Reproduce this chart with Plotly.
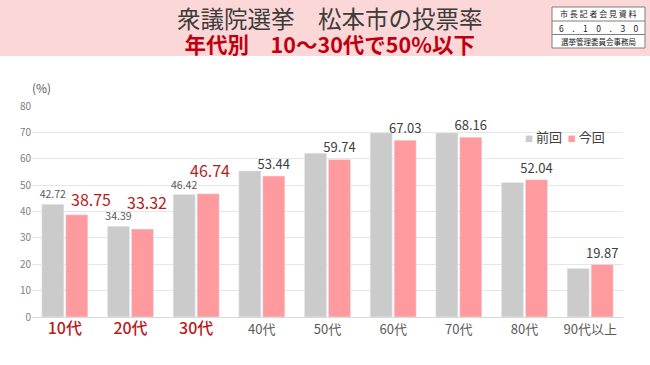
import plotly.graph_objects as go

categories = ["10代", "20代", "30代", "40代", "50代", "60代", "70代", "80代", "90代以上"]
prev_vals = [42.72, 34.39, 46.42, 55.4, 62.1, 69.8, 69.8, 51.0, 18.4]
curr_vals = [38.75, 33.32, 46.74, 53.44, 59.74, 67.03, 68.16, 52.04, 19.87]
highlight = [True, True, True, False, False, False, False, False, False]
y_ticks = [0, 10, 20, 30, 40, 50, 60, 70, 80]
series_names = ["前回", "今回"]

FONT = "Noto Sans CJK JP"
GRAY_BAR = "#cbcbcb"
PINK_BAR = "#ff9a9e"
DARK_RED = "#b81c22"
TXT_GRAY = "#595959"

# label placement offsets (pixels) for the emphasised current-value labels
hl_xshift = [26, 16, 14]
hl_yshift = [2, 13, 10]

prev_text = [f"{v:.2f}" if h else "" for v, h in zip(prev_vals, highlight)]
curr_text = [("" if h else f"{v:.2f}") for v, h in zip(curr_vals, highlight)]

tick_text = [
    f'<span style="color:{DARK_RED};font-size:16px;font-weight:500">{c}</span>' if h else c
    for c, h in zip(categories, highlight)
]

fig = go.Figure()
fig.add_trace(go.Bar(
    x=categories, y=prev_vals, name=series_names[0], marker_color=GRAY_BAR,
    text=prev_text, textposition="outside", constraintext="none",
    textfont=dict(size=10.5, color=TXT_GRAY, family=FONT),
    cliponaxis=False, showlegend=False,
))
fig.add_trace(go.Bar(
    x=categories, y=curr_vals, name=series_names[1], marker_color=PINK_BAR,
    text=curr_text, textposition="outside", constraintext="none",
    textfont=dict(size=13, color="#404040", family=FONT),
    cliponaxis=False, showlegend=False,
))

# plot area in pixels: x 32..623, y 106..317
PL, PR, PT, PB = 32, 623, 106, 317

def px_y(p):
    return (PB - p) / (PB - PT)

def px_x(p):
    return (p - PL) / (PR - PL)

box_l, box_r, box_t, box_b = 552, 645, 7, 48
shapes = [
    dict(type="rect", xref="paper", yref="paper", x0=px_x(-5), x1=px_x(660),
         y0=px_y(56), y1=px_y(-5), fillcolor="#fcd7d7", line_width=0, layer="below"),
    dict(type="rect", xref="paper", yref="paper",
         x0=px_x(box_l), x1=px_x(box_r), y0=px_y(box_b), y1=px_y(box_t),
         fillcolor="white", line=dict(color="#7f7f7f", width=1)),
    dict(type="line", xref="paper", yref="paper",
         x0=px_x(box_l), x1=px_x(box_r), y0=px_y(21), y1=px_y(21),
         line=dict(color="#7f7f7f", width=1)),
    dict(type="line", xref="paper", yref="paper",
         x0=px_x(box_l), x1=px_x(box_r), y0=px_y(34.5), y1=px_y(34.5),
         line=dict(color="#7f7f7f", width=1)),
]

legend_html = (
    f'<span style="color:{GRAY_BAR};font-size:8px">■</span> {series_names[0]}  '
    f'<span style="color:{PINK_BAR};font-size:8px">■</span> {series_names[1]}'
)

header_html = (
    '<span style="font-size:23.5px;color:#3c3c3c">衆議院選挙　松本市の投票率</span><br>'
    '<span style="font-size:21.5px;color:#c00010"><b>年代別　10～30代で50%以下</b></span>'
)

annotations = [
    dict(text=header_html, x=px_x(330), y=px_y(30), xref="paper", yref="paper",
         showarrow=False, font=dict(size=19.5, color="#3c3c3c", family=FONT),
         xanchor="center", yanchor="middle", align="center"),
    dict(text="市 長 記 者 会 見 資 料", x=px_x(598.5), y=px_y(14), xref="paper", yref="paper",
         showarrow=False, font=dict(size=8, color="#222", family=FONT), xanchor="center", yanchor="middle"),
    dict(text="6　.　1　0　.　3　0", x=px_x(598.5), y=px_y(28), xref="paper", yref="paper",
         showarrow=False, font=dict(size=8.5, color="#222", family=FONT), xanchor="center", yanchor="middle"),
    dict(text="選挙管理委員会事務局", x=px_x(598.5), y=px_y(41.5), xref="paper", yref="paper",
         showarrow=False, font=dict(size=7.5, color="#222", family=FONT), xanchor="center", yanchor="middle"),
    dict(text="(%)", x=px_x(41), y=px_y(87), xref="paper", yref="paper",
         showarrow=False, font=dict(size=12, color=TXT_GRAY, family=FONT), xanchor="center", yanchor="middle"),
    dict(text=legend_html, x=px_x(523), y=px_y(136), xref="paper", yref="paper",
         showarrow=False, font=dict(size=13, color="#404040", family=FONT), xanchor="left", yanchor="middle"),
]

# emphasised current-value labels, anchored to the data values
hl_idx = [i for i, h in enumerate(highlight) if h]
for k, i in enumerate(hl_idx):
    annotations.append(dict(
        text=f"{curr_vals[i]:.2f}", x=categories[i], y=curr_vals[i], xref="x", yref="y",
        showarrow=False, xanchor="center", yanchor="bottom",
        xshift=hl_xshift[k], yshift=hl_yshift[k],
        font=dict(size=16, color=DARK_RED, family=FONT),
    ))

fig.update_layout(
    width=650, height=365,
    margin=dict(l=PL, r=650 - PR, t=PT, b=365 - PB),
    paper_bgcolor="white", plot_bgcolor="white",
    barmode="group", bargap=0.27, bargroupgap=0.08,
    font=dict(family=FONT, color=TXT_GRAY),
    showlegend=False,
    shapes=shapes,
    annotations=annotations,
    xaxis=dict(tickmode="array", tickvals=categories, ticktext=tick_text,
               tickfont=dict(size=13, color=TXT_GRAY, family=FONT),
               showline=True, linecolor="#d9d9d9", ticks=""),
    yaxis=dict(range=[0, 80], tickvals=y_ticks, showgrid=True, gridcolor="#e6e6e6",
               tickfont=dict(size=10, color="#808080", family=FONT), zeroline=False,
               ticks=""),
)

fig.write_html(
    "out.html",
    config={"displayModeBar": False},
    post_script="document.body.style.margin='0';document.body.style.overflow='hidden';",
)
